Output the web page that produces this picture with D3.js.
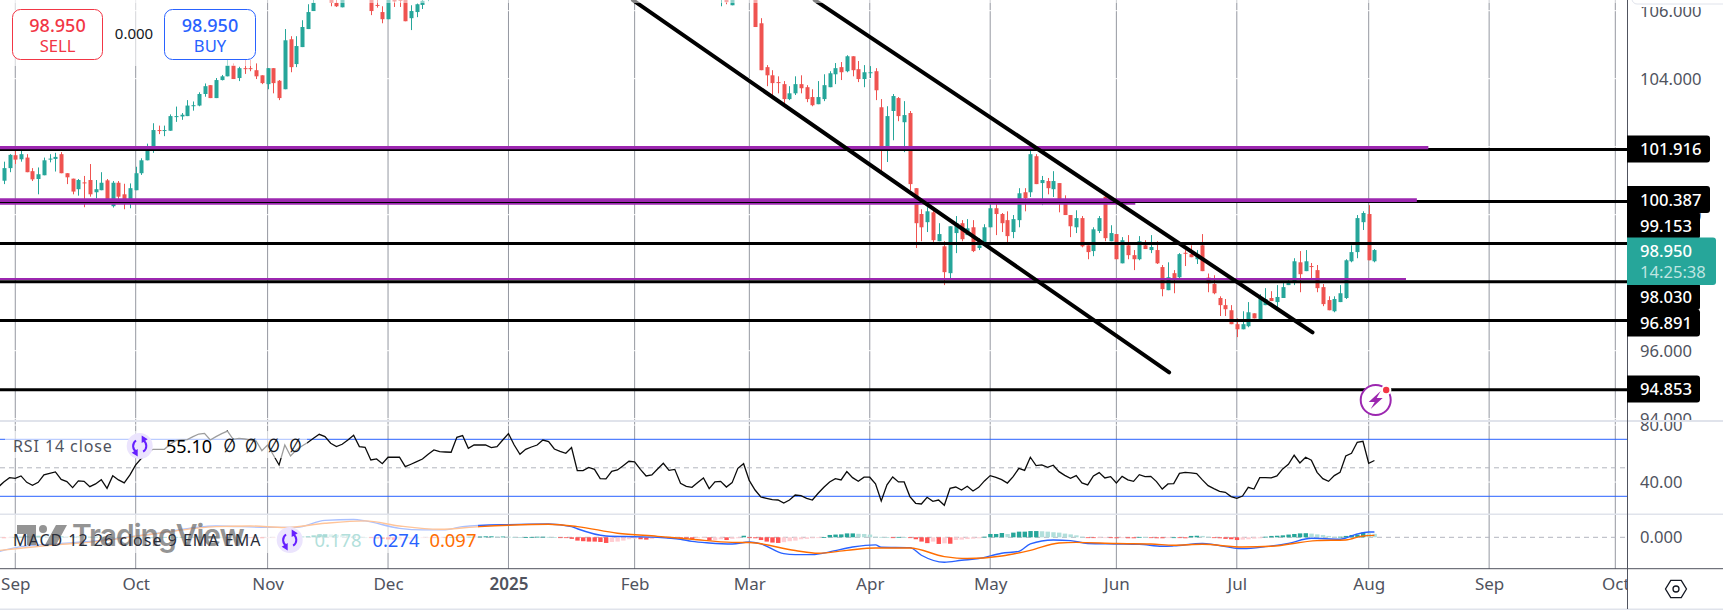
<!DOCTYPE html>
<html>
<head>
<meta charset="utf-8">
<style>
  html, body { margin: 0; padding: 0; background: #fff; }
  svg { display: block; }
  text { font-family: "Noto Sans", sans-serif; }
</style>
</head>
<body>
<div id="chart"></div>
<script src="https://cdn.jsdelivr.net/npm/d3@7"></script>
<script>
'use strict'

// bars that show inside the price pane, first and last bar of every run
const barRuns = [[0, 54], [57, 59], [64, 74], [125, 127], [131, 239]]

const opens = [
  101.00, 101.37, 101.75, 101.63, 101.68, 101.28, 101.05, 101.16, 101.62, 101.64,
  101.78, 101.22, 101.06, 100.75, 100.95, 101.02, 100.66, 100.72, 101.01, 100.25,
  100.94, 100.60, 100.43, 100.72, 101.22, 101.60, 102.00, 102.49, 102.46, 102.47,
  102.88, 102.89, 102.90, 103.20, 103.21, 103.55, 103.81, 103.43, 103.96, 104.07,
  104.39, 104.02, 104.31, 104.31, 104.25, 104.10, 103.84, 104.31, 103.94, 103.69,
  105.16, 104.43, 104.93, 105.46, 105.99,
  106.5, 106.23, 106.10,
  106.5, 106.17, 105.96, 105.75, 106.5, 106.5, 106.5, 105.78, 105.96, 106.17, 106.5,
  106.5, 106.5, 106.16,
  106.5, 105.63, 104.34, 104.10, 103.90, 103.84, 103.40, 103.57, 103.84,
  103.75, 103.46, 103.25, 103.40, 103.75, 104.13, 104.34, 104.22, 104.66, 104.28,
  103.99, 104.17, 104.22, 103.16, 102.02, 103.05, 103.43, 102.72, 102.99, 100.78,
  100.02, 99.78, 100.07, 99.22, 99.07, 98.28, 99.46, 99.75, 99.40, 99.63,
  99.02, 99.10, 99.63, 100.19, 100.02, 99.84, 99.49, 99.84, 100.66, 100.66,
  101.72, 100.93, 100.99, 100.75, 100.93, 100.43, 99.99, 99.63, 99.90, 99.10,
  98.93, 99.52, 100.53, 99.22, 99.43, 98.57, 99.10, 98.81, 98.69, 99.10,
  98.96, 98.96, 98.46, 97.78, 98.28, 98.16, 98.88, 98.84, 98.69, 99.10,
  98.15, 97.96, 97.55, 97.34, 97.19, 96.78, 96.63, 96.72, 97.10, 96.92,
  97.34, 97.55, 97.43, 97.55, 97.93, 97.99, 98.60, 98.34, 98.49, 98.37,
  97.87, 97.49, 97.16, 97.43, 97.55, 98.63, 98.90, 99.78, 100.02, 98.63
]
const highs = [
  101.56, 101.78, 101.90, 101.88, 101.78, 101.37, 101.39, 101.68, 101.78, 101.82,
  101.84, 101.22, 101.06, 101.05, 101.14, 101.49, 101.02, 101.25, 101.05, 100.99,
  100.99, 100.91, 100.92, 101.41, 101.66, 102.09, 102.69, 102.62, 102.62, 102.95,
  103.18, 102.99, 103.37, 103.33, 103.60, 103.86, 103.81, 104.02, 104.11, 104.55,
  104.45, 104.35, 104.55, 104.55, 104.45, 104.10, 104.31, 104.31, 103.96, 105.46,
  105.25, 105.25, 105.72, 106.19, 106.40,
  106.6, 106.4, 106.7,
  106.7, 106.4, 106.13, 106.7, 106.6, 106.6, 106.6, 106.16, 106.21, 106.4, 106.7,
  106.7, 106.6, 106.6,
  106.6, 105.78, 104.40, 104.25, 104.07, 103.93, 103.78, 104.07, 104.10,
  103.81, 103.69, 103.93, 104.13, 104.22, 104.46, 104.49, 104.69, 104.66, 104.52,
  104.40, 104.37, 104.31, 103.40, 103.19, 103.55, 103.46, 103.34, 103.05, 100.78,
  100.16, 100.22, 100.23, 99.75, 99.22, 99.66, 99.96, 99.84, 99.87, 99.84,
  99.31, 99.72, 100.31, 100.31, 100.05, 100.10, 99.99, 100.78, 100.78, 101.90,
  101.78, 101.14, 101.08, 101.28, 100.93, 100.57, 99.99, 100.13, 99.96, 99.10,
  99.63, 99.96, 100.57, 99.69, 99.43, 99.34, 99.40, 98.96, 99.37, 99.25,
  99.40, 99.22, 98.52, 98.60, 98.37, 98.87, 98.96, 99.10, 98.96, 99.43,
  98.27, 98.22, 97.60, 97.52, 97.34, 96.95, 97.16, 97.43, 97.10, 97.66,
  97.84, 97.75, 97.93, 97.99, 98.07, 98.72, 98.93, 98.96, 98.58, 98.52,
  97.96, 97.60, 97.60, 97.93, 98.69, 99.10, 99.99, 100.10, 100.28, 98.99
]
const lows = [
  100.90, 101.25, 101.49, 101.56, 101.25, 100.99, 100.60, 101.16, 101.54, 101.27,
  101.22, 100.90, 100.60, 100.56, 100.22, 100.53, 100.48, 100.72, 100.43, 100.21,
  100.43, 100.16, 100.19, 100.72, 101.17, 101.60, 101.82, 102.37, 102.31, 102.47,
  102.73, 102.79, 102.90, 103.06, 103.19, 103.47, 103.43, 103.43, 103.95, 104.07,
  103.99, 103.93, 104.14, 104.22, 103.99, 103.84, 103.69, 103.57, 103.37, 103.69,
  104.19, 104.34, 104.93, 105.46, 105.99,
  106.13, 106.11, 106.10,
  105.87, 106.09, 105.63, 105.75, 106.11, 106.11, 105.69, 105.43, 105.81, 106.05, 106.28,
  106.13, 106.19, 106.16,
  105.52, 104.25, 103.78, 103.49, 103.57, 103.25, 103.37, 103.52, 103.57,
  103.31, 103.19, 103.25, 103.34, 103.75, 103.84, 103.96, 104.19, 104.07, 103.90,
  103.75, 104.02, 103.37, 101.25, 101.55, 102.19, 102.75, 101.84, 100.72, 99.02,
  99.22, 99.49, 99.19, 99.22, 97.93, 98.13, 98.87, 99.22, 99.40, 98.90,
  98.96, 99.10, 99.63, 99.40, 99.49, 99.19, 99.31, 99.63, 100.10, 100.52,
  100.90, 100.28, 100.60, 100.52, 100.07, 99.99, 99.34, 99.46, 99.04, 98.69,
  98.78, 99.46, 99.22, 99.22, 98.69, 98.57, 98.69, 98.37, 98.66, 98.99,
  98.87, 98.55, 97.60, 97.78, 97.69, 98.13, 98.49, 98.75, 98.55, 98.34,
  97.72, 97.66, 97.02, 97.02, 96.78, 96.40, 96.63, 96.69, 96.95, 96.92,
  97.34, 97.46, 97.28, 97.55, 97.93, 97.93, 97.72, 98.34, 98.13, 97.72,
  97.31, 97.19, 97.13, 97.43, 97.52, 98.60, 98.72, 99.55, 98.66, 98.60
]
const closes = [
  101.37, 101.76, 101.62, 101.78, 101.25, 101.04, 101.19, 101.60, 101.65, 101.70,
  101.22, 101.10, 100.68, 101.02, 100.93, 100.60, 100.75, 100.94, 100.43, 100.94,
  100.53, 100.43, 100.78, 101.22, 101.60, 101.88, 102.49, 102.46, 102.49, 102.90,
  102.90, 102.94, 103.21, 103.22, 103.55, 103.78, 103.43, 103.96, 104.07, 104.39,
  103.99, 104.31, 104.29, 104.29, 104.07, 103.87, 104.31, 103.87, 103.43, 105.13,
  104.34, 104.96, 105.52, 105.96, 106.23,
  106.23, 106.13, 106.5,
  105.99, 106.15, 105.75, 106.5, 106.27, 106.29, 105.69, 105.99, 106.19, 106.29, 106.6,
  106.6, 106.25, 106.5,
  105.52, 104.25, 104.10, 103.87, 103.88, 103.40, 103.57, 103.84, 103.72,
  103.40, 103.22, 103.46, 103.81, 104.16, 104.31, 104.19, 104.66, 104.25, 103.99,
  104.19, 104.19, 103.66, 102.02, 102.90, 103.49, 102.90, 102.93, 100.90, 99.75,
  99.63, 100.10, 99.25, 99.43, 98.31, 99.66, 99.75, 99.28, 99.60, 98.93,
  99.10, 99.63, 100.19, 100.02, 99.75, 99.37, 99.87, 100.63, 100.49, 101.78,
  100.90, 101.02, 100.78, 100.99, 100.46, 99.99, 99.66, 99.90, 99.07, 98.90,
  99.57, 99.90, 99.31, 99.46, 98.69, 99.25, 98.81, 98.69, 99.22, 98.99,
  99.05, 98.57, 97.81, 98.16, 98.10, 98.84, 98.86, 98.75, 98.84, 98.34,
  97.98, 97.69, 97.34, 97.22, 96.78, 96.63, 96.78, 97.13, 96.95, 97.55,
  97.52, 97.46, 97.58, 97.87, 97.99, 98.63, 98.25, 98.63, 98.46, 97.84,
  97.37, 97.19, 97.52, 97.69, 98.66, 98.90, 99.90, 100.05, 98.66, 98.96
]

// RSI, one value per bar, the first one is bar -1
const rsiValues = [
  36.3,
  40.1, 43.1, 42.6, 44.3, 39.8, 37.7, 39.8, 45.0, 46.1, 47.1,
  41.9, 40.3, 36.1, 40.8, 40.5, 36.8, 38.7, 41.7, 35.6, 44.5,
  41.5, 39.4, 45.0, 52.0, 56.7, 60.2, 63.0, 63.0, 63.0, 66.5,
  69.1, 69.5, 69.8, 71.9, 73.7, 74.2, 69.5, 71.9, 74.0, 75.8,
  70.0, 70.7, 70.2, 69.5, 68.8, 62.0, 66.0, 59.0, 52.0, 66.0,
  58.3, 62.5, 65.3, 67.7, 70.7, 73.5, 71.9, 67.2, 64.9, 66.5,
  69.5, 72.8, 64.9, 64.4, 55.5, 56.2, 52.9, 57.4, 57.4, 57.4,
  50.8, 52.5, 54.3, 56.2, 59.5, 62.5, 61.3, 61.1, 60.9, 71.4,
  72.6, 63.7, 66.0, 66.0, 66.0, 64.2, 64.9, 69.5, 74.0, 66.0,
  59.5, 63.0, 64.6, 66.0, 69.5, 68.4, 63.2, 61.6, 60.2, 64.2,
  48.0, 48.0, 50.3, 48.9, 42.4, 42.2, 47.5, 48.5, 51.5, 54.6,
  54.1, 48.9, 44.3, 45.0, 49.2, 53.2, 48.2, 48.9, 39.1, 37.0,
  36.3, 39.6, 42.9, 35.4, 40.1, 40.5, 36.5, 39.6, 49.6, 52.9,
  41.0, 34.4, 29.5, 28.6, 27.7, 27.4, 25.3, 27.4, 30.9, 30.5,
  28.6, 27.4, 32.1, 36.3, 40.1, 42.4, 41.5, 47.3, 43.1, 40.5,
  43.4, 43.4, 38.7, 26.7, 38.0, 43.6, 40.1, 40.1, 29.8, 25.1,
  24.6, 29.3, 26.5, 27.4, 23.7, 35.6, 36.5, 34.4, 37.0, 33.7,
  36.3, 40.8, 44.5, 43.3, 41.7, 39.3, 43.8, 49.6, 48.2, 57.4,
  51.5, 52.0, 50.3, 51.8, 47.3, 44.7, 42.6, 44.5, 39.4, 38.0,
  44.3, 46.6, 42.9, 43.8, 39.4, 44.0, 41.5, 40.5, 45.2, 43.8,
  44.0, 40.3, 35.1, 38.7, 38.9, 46.1, 46.8, 46.4, 45.9, 41.5,
  37.5, 35.4, 33.5, 32.8, 29.8, 28.6, 30.2, 36.3, 35.1, 43.1,
  43.1, 42.9, 44.3, 49.2, 52.5, 58.8, 53.4, 57.4, 55.3, 46.8,
  42.4, 40.5, 44.5, 46.8, 58.3, 60.2, 67.9, 68.6, 53.2, 55.1
]

// MACD histogram, one value per bar from bar 0
const histValues = [
  -0.05, -0.03, 0, 0.03, 0.06, 0.08, 0.08, 0.07, 0.06, 0.05,
  0.05, 0.04, 0.04, 0.04, 0.03, 0.03, 0.03, 0.03, 0.02, 0.02,
  0.02, 0.01, 0.01, 0.01, 0, 0, 0, 0.01, 0.01, 0.02,
  0.02, 0.02, 0.03, 0.03, 0.03, 0.03, 0.03, 0.03, 0.02, 0.02,
  0.01, 0.01, 0, -0.02, -0.03, -0.05, -0.04, -0.03, -0.02, -0.01,
  0, 0.02, 0.04, 0.06, 0.10, 0.14, 0.16, 0.15, 0.13, 0.11,
  0.09, 0.06, 0.03, 0, -0.03, -0.06, -0.09, -0.11, -0.13, -0.12,
  -0.10, -0.08, -0.06, -0.04, -0.03, -0.03, -0.02, -0.02, 0.01, 0.02,
  0.03, 0.03, 0.04, 0.04, 0.05, 0.05, 0.04, 0.04, 0.03, 0.02,
  0.01, 0.01, 0.02, 0.03, 0.03, 0.02, 0.01, -0.02, -0.04, -0.08,
  -0.17, -0.20, -0.22, -0.22, -0.24, -0.29, -0.24, -0.22, -0.17, -0.10,
  -0.07, -0.10, -0.12, -0.09, -0.03, -0.02, -0.05, -0.03, -0.03, -0.05,
  -0.09, -0.05, -0.03, -0.16, -0.14, -0.10, -0.14, -0.08, -0.05, 0.08,
  -0.02, -0.05, -0.14, -0.22, -0.27, -0.29, -0.25, -0.20, -0.17, -0.10,
  -0.08, -0.05, -0.03, 0.01, 0.12, 0.14, 0.15, 0.20, 0.20, 0.18,
  0.17, 0.14, 0.03, 0.02, 0.01, -0.01, 0.02, 0.01, -0.02, -0.10,
  -0.22, -0.30, -0.22, -0.34, -0.31, -0.33, -0.14, -0.12, -0.09, -0.07,
  -0.05, 0.03, 0.17, 0.17, 0.22, 0.17, 0.24, 0.29, 0.29, 0.32,
  0.32, 0.31, 0.29, 0.26, 0.24, 0.19, 0.15, 0.10, 0.03, -0.01,
  -0.03, -0.02, -0.01, -0.01, -0.05, -0.03, -0.05, -0.05, 0.02, 0.01,
  -0.02, -0.05, -0.05, -0.02, 0, -0.03, -0.05, 0.07, 0.08, 0.07,
  0.03, -0.03, -0.05, -0.08, -0.10, -0.14, -0.12, -0.10, -0.07, -0.05,
  0.03, 0.07, 0.08, 0.10, 0.14, 0.17, 0.20, 0.21, 0.19, 0.15,
  0.12, 0.07, 0.03, 0.03, 0.07, 0.12, 0.14, 0.24, 0.20, 0.178
]

// MACD and signal lines, read at their turning points
const macdBars = [
  -1, 3, 9, 16, 26, 37, 46, 51, 56, 61, 63, 69, 73, 77, 80, 88, 95, 99, 100,
  105, 110, 114, 118, 120, 123, 127, 130, 132, 136, 138, 141, 144, 148, 152, 153,
  158, 160, 164, 167, 170, 174, 177, 179, 183, 186, 189, 194, 198, 202, 204, 209,
  216, 220, 224, 228, 233, 236, 238, 239
]
const macdValues = [
  -0.74, -0.48, -0.34, -0.19, 0.17, 0.58, 0.51, 0.51, 0.87, 0.91, 0.84, 0.46, 0.38, 0.38, 0.55, 0.65, 0.68, 0.55, 0.44,
  0.07, 0.03, 0, -0.10, -0.21, -0.29, -0.34, -0.24, -0.34, -0.84, -0.89, -0.89, -0.75, -0.50, -0.39, -0.51,
  -0.53, -0.92, -1.28, -1.18, -1.09, -0.82, -0.72, -0.34, -0.14, -0.17, -0.32, -0.34, -0.36, -0.46, -0.44, -0.32,
  -0.58, -0.48, -0.31, -0.05, -0.10, 0.17, 0.27, 0.274
]
const signalBars = [
  -1, 3, 9, 16, 26, 37, 43, 49, 56, 63, 69, 76, 83, 88, 95, 100,
  107, 114, 120, 127, 130, 138, 142, 147, 152, 158, 164, 168, 174, 179, 184, 187, 194, 200, 204,
  209, 216, 221, 229, 234, 237, 239
]
const signalValues = [
  -0.68, -0.56, -0.39, -0.22, 0.17, 0.55, 0.58, 0.50, 0.72, 0.84, 0.58, 0.41, 0.55, 0.62, 0.67, 0.55,
  0.21, 0.05, -0.10, -0.26, -0.27, -0.68, -0.82, -0.67, -0.55, -0.55, -0.99, -1.09, -0.96, -0.67, -0.29, -0.26, -0.32, -0.34, -0.41,
  -0.36, -0.50, -0.46, -0.17, -0.14, 0.07, 0.097
]

const monthBars = [2, 23, 46, 67, 88, 110, 130, 151, 172, 194, 215, 238, 259, 281]
const monthLabels = ['Sep', 'Oct', 'Nov', 'Dec', '2025', 'Feb', 'Mar', 'Apr', 'May', 'Jun', 'Jul', 'Aug', 'Sep', 'Oct']

const priceTicks = [106, 104, 102, 100, 98, 96, 94]
const rsiTicks = [80, 40]
const macdTicks = [0]

const levelPrices = [101.916, 100.387, 99.153, 98.030, 96.891, 94.853]
const levelText = ['101.916', '100.387', '99.153', '98.030', '96.891', '94.853']
const zonePrices = [100.34, 101.97, 100.43, 98.11]
const zoneLastBars = [197.3, 248.4, 246.4, 244.5]
const trendBars = [[109.7, 203.2], [141.4, 228.2]]
const trendPrices = [[106.31, 95.36], [106.31, 96.54]]

const lastPrice = '98.950'
const countdown = '14:25:38'

const width = 1723
const height = 610
const axisX = 1627
const mainBottom = 420
const upColor = '#26a69a'
const downColor = '#ef5350'
const blue = '#2962ff'
const orange = '#ff6d00'
const purple = '#9c27b0'
const paneLine = '#e0e3eb'
const tickColor = '#50535e'

const x = d3.scaleLinear().domain([0, 281]).range([3.8, 1615.3])
const yPrice = d3.scaleLinear().domain([104, 96]).range([78.7, 350.7])
const yRsi = d3.scaleLinear().domain([70, 30]).range([439.3, 496.3])
const yMacd = d3.scaleLinear().domain([0, 1]).range([537.3, 517.8])

const svg = d3.select('#chart')
  .append('svg')
  .attr('width', width)
  .attr('height', height)
  .attr('viewBox', `0 0 ${width} ${height}`)

const defs = svg.append('defs')
function addClip (id, left, top, w, h) {
  defs.append('clipPath').attr('id', id)
    .append('rect')
    .attr('x', left).attr('y', top).attr('width', w).attr('height', h)
}
addClip('main-clip', 0, 0, axisX, mainBottom)
addClip('price-axis-clip', axisX, 7, width - axisX, mainBottom - 7)
addClip('rsi-axis-clip', axisX, 422, width - axisX, 92)
addClip('time-clip', 0, 570, axisX, 40)

function drawGrid () {
  const grid = svg.append('g').attr('class', 'grid')
  grid.selectAll('line')
    .data(monthBars)
    .enter()
    .append('line')
    .attr('x1', d => x(d))
    .attr('x2', d => x(d))
    .attr('y1', 0)
    .attr('y2', 569)
    .attr('stroke', '#9598a1')
    .attr('stroke-width', 1)

  // horizontal grid is white here, it only nicks the vertical lines
  const nicks = priceTicks.map(d => yPrice(d)).concat(rsiTicks.map(d => yRsi(d)))
  grid.selectAll('line.nick')
    .data(nicks)
    .enter()
    .append('line')
    .attr('class', 'nick')
    .attr('x1', 0)
    .attr('x2', axisX)
    .attr('y1', d => d)
    .attr('y2', d => d)
    .attr('stroke', '#fff')
}

function drawCandles () {
  const bars = barRuns.flatMap(r => d3.range(r[0], r[1] + 1))
  const candles = bars.map((bar, i) => ({
    bar,
    open: opens[i],
    high: highs[i],
    low: lows[i],
    close: closes[i]
  }))
  const color = d => d.close >= d.open ? upColor : downColor
  const g = svg.append('g').attr('clip-path', 'url(#main-clip)')
  g.selectAll('line.wick')
    .data(candles)
    .enter()
    .append('line')
    .attr('class', 'wick')
    .attr('x1', d => Math.round(x(d.bar)) + 0.5)
    .attr('x2', d => Math.round(x(d.bar)) + 0.5)
    .attr('y1', d => yPrice(d.high))
    .attr('y2', d => yPrice(d.low))
    .attr('stroke', color)
  g.selectAll('rect.body')
    .data(candles)
    .enter()
    .append('rect')
    .attr('class', 'body')
    .attr('x', d => Math.round(x(d.bar)) - 1.5)
    .attr('width', 4)
    .attr('y', d => yPrice(Math.max(d.open, d.close)))
    .attr('height', d => Math.max(1, Math.abs(yPrice(d.open) - yPrice(d.close))))
    .attr('fill', color)
}

function drawLevels () {
  const g = svg.append('g').attr('clip-path', 'url(#main-clip)')
  const zone = (i, w) => {
    g.append('line')
      .attr('x1', 0)
      .attr('x2', x(zoneLastBars[i]))
      .attr('y1', yPrice(zonePrices[i]))
      .attr('y2', yPrice(zonePrices[i]))
      .attr('stroke', purple)
      .attr('stroke-width', w)
  }
  zone(0, 3)
  g.selectAll('line.level')
    .data(levelPrices)
    .enter()
    .append('line')
    .attr('class', 'level')
    .attr('x1', 0)
    .attr('x2', axisX)
    .attr('y1', d => yPrice(d))
    .attr('y2', d => yPrice(d))
    .attr('stroke', '#000')
    .attr('stroke-width', 3)
  zone(1, 3.2)
  zone(2, 3.6)
  zone(3, 2)
  g.selectAll('line.trend')
    .data(trendBars)
    .enter()
    .append('line')
    .attr('class', 'trend')
    .attr('x1', d => x(d[0]))
    .attr('x2', d => x(d[1]))
    .attr('y1', (d, i) => yPrice(trendPrices[i][0]))
    .attr('y2', (d, i) => yPrice(trendPrices[i][1]))
    .attr('stroke', '#000')
    .attr('stroke-width', 4)
    .attr('stroke-linecap', 'round')
}

function drawRsi () {
  const g = svg.append('g')
  g.selectAll('line.band')
    .data([70, 30])
    .enter()
    .append('line')
    .attr('class', 'band')
    .attr('x1', 0)
    .attr('x2', axisX)
    .attr('y1', d => yRsi(d))
    .attr('y2', d => yRsi(d))
    .attr('stroke', blue)
  g.append('line')
    .attr('x1', 0)
    .attr('x2', axisX)
    .attr('y1', yRsi(50))
    .attr('y2', yRsi(50))
    .attr('stroke', '#b2b5be')
    .attr('stroke-dasharray', '5 4')
  const line = d3.line()
    .x((d, i) => x(i - 1))
    .y(d => yRsi(d))
  g.append('path')
    .attr('d', line(rsiValues))
    .attr('fill', 'none')
    .attr('stroke', '#0b0b0b')
    .attr('stroke-width', 1.3)
}

function histColor (d, i) {
  const prev = i > 0 ? histValues[i - 1] : 0
  if (d >= 0) {
    return d >= prev ? upColor : '#b2dfdb'
  }
  return d <= prev ? '#ff5252' : '#ffcdd2'
}

function drawMacd () {
  const g = svg.append('g')
  g.append('line')
    .attr('x1', 0)
    .attr('x2', axisX)
    .attr('y1', yMacd(0))
    .attr('y2', yMacd(0))
    .attr('stroke', '#b2b5be')
    .attr('stroke-dasharray', '5 4')
  g.selectAll('rect.hist')
    .data(histValues)
    .enter()
    .append('rect')
    .attr('class', 'hist')
    .attr('x', (d, i) => x(i) - 2)
    .attr('width', 4.4)
    .attr('y', d => Math.min(yMacd(d), yMacd(0)))
    .attr('height', d => Math.max(0.8, Math.abs(yMacd(d) - yMacd(0))))
    .attr('fill', histColor)
  const line = d3.line()
    .x(d => x(d[0]))
    .y(d => yMacd(d[1]))
    .curve(d3.curveMonotoneX)
  g.append('path')
    .attr('d', line(d3.zip(macdBars, macdValues)))
    .attr('fill', 'none')
    .attr('stroke', blue)
    .attr('stroke-width', 1.4)
  g.append('path')
    .attr('d', line(d3.zip(signalBars, signalValues)))
    .attr('fill', 'none')
    .attr('stroke', orange)
    .attr('stroke-width', 1.4)
}

function drawWatermark () {
  const g = svg.append('g').attr('fill', '#6b6b6b').attr('opacity', 0.72)
  g.append('path')
    .attr('d', 'M17 525h19v20h-9v-11h-10z M56 525h11l-11 20h-11z')
  g.append('circle').attr('cx', 43).attr('cy', 529).attr('r', 4)
  g.append('text')
    .attr('x', 72)
    .attr('y', 546)
    .attr('font-size', 30)
    .attr('font-weight', 600)
    .style('font-family', 'Inter, sans-serif')
    .attr('letter-spacing', -1)
    .text('TradingView')
}

function drawRefreshIcon (cx, cy) {
  const g = svg.append('g').attr('transform', `translate(${cx},${cy})`)
  g.append('circle').attr('r', 13).attr('fill', '#ebe4fd')
  const arc = d3.arc().innerRadius(5.6).outerRadius(7.6)
  g.append('path')
    .attr('d', arc({ startAngle: 0.5, endAngle: 2.6 }))
    .attr('fill', '#651fff')
  g.append('path')
    .attr('d', arc({ startAngle: 3.6, endAngle: 5.7 }))
    .attr('fill', '#651fff')
  g.append('path').attr('d', 'M2 -10.5l6 3.8l-6 3.8z').attr('fill', '#651fff')
  g.append('path').attr('d', 'M-2 10.5l-6 -3.8l6 -3.8z').attr('fill', '#651fff')
}

function drawLegends () {
  // legend rows sit on a half transparent backing
  svg.append('rect')
    .attr('x', 5).attr('y', 431).attr('width', 302).attr('height', 27)
    .attr('fill', '#fff').attr('opacity', 0.6)
  svg.append('rect')
    .attr('x', 0).attr('y', 515).attr('width', 478).attr('height', 38)
    .attr('fill', '#fff').attr('opacity', 0.6)
  drawWatermark()

  svg.append('text')
    .attr('x', 13).attr('y', 451.5)
    .attr('font-size', 16).attr('fill', '#50535e')
    .attr('letter-spacing', 0.9)
    .text('RSI 14 close')
  drawRefreshIcon(139.7, 446)
  svg.append('text')
    .attr('x', 166).attr('y', 452.5)
    .attr('font-size', 18).attr('fill', '#000')
    .text('55.10')
  svg.selectAll('text.empty')
    .data([229.6, 251, 273.5, 295.4])
    .enter()
    .append('text')
    .attr('class', 'empty')
    .attr('transform', d => `translate(${d},452) scale(0.85,1.2)`)
    .attr('text-anchor', 'middle')
    .attr('font-size', 16).attr('font-weight', 600).attr('fill', '#131722')
    .style('font-family', '"DejaVu Sans", sans-serif')
    .text('∅')

  svg.append('text')
    .attr('x', 13).attr('y', 546)
    .attr('font-size', 16).attr('fill', '#2a2e39')
    .attr('letter-spacing', 1)
    .text('MACD 12 26 close 9 EMA EMA')
  drawRefreshIcon(289.7, 540)
  const values = [['0.178', 314.5, '#b2dfdb'], ['0.274', 372.4, blue], ['0.097', 429.4, orange]]
  svg.selectAll('text.macd-value')
    .data(values)
    .enter()
    .append('text')
    .attr('class', 'macd-value')
    .attr('x', d => d[1]).attr('y', 546.5)
    .attr('font-size', 18.4).attr('fill', d => d[2])
    .text(d => d[0])
}

function drawTradeButtons () {
  // the top left corner is veiled behind the buttons
  svg.append('rect')
    .attr('x', 0).attr('y', 0).attr('width', 255).attr('height', 66)
    .attr('fill', '#fff').attr('opacity', 0.6)
  svg.append('rect')
    .attr('x', 0).attr('y', 0).attr('width', axisX).attr('height', 3)
    .attr('fill', '#fff').attr('opacity', 0.5)
  const buttons = [
    { x: 12.5, w: 90, color: '#f23645', label: 'SELL' },
    { x: 164.5, w: 91, color: blue, label: 'BUY' }
  ]
  const g = svg.selectAll('g.button')
    .data(buttons)
    .enter()
    .append('g')
    .attr('class', 'button')
  g.append('rect')
    .attr('x', d => d.x).attr('y', 9.5)
    .attr('width', d => d.w).attr('height', 50)
    .attr('rx', 8)
    .attr('fill', '#fff')
    .attr('stroke', d => d.color)
  g.append('text')
    .attr('x', d => d.x + d.w / 2).attr('y', 32)
    .attr('text-anchor', 'middle')
    .attr('font-size', 18).attr('font-weight', 500)
    .attr('fill', d => d.color)
    .text(lastPrice)
  g.append('text')
    .attr('x', d => d.x + d.w / 2).attr('y', 52)
    .attr('text-anchor', 'middle')
    .attr('font-size', 16.6).attr('fill', d => d.color)
    .text(d => d.label)
  svg.append('text')
    .attr('x', 134).attr('y', 38.5)
    .attr('text-anchor', 'middle')
    .attr('font-size', 15).attr('fill', '#131722')
    .text('0.000')
}

function drawBadge () {
  const cx = 1375.7
  const cy = 400
  const g = svg.append('g')
  g.append('circle')
    .attr('cx', cx).attr('cy', cy).attr('r', 15)
    .attr('fill', '#fff').attr('stroke', purple).attr('stroke-width', 2)
  g.append('path')
    .attr('transform', `translate(${cx},${cy})`)
    .attr('d', 'M5 -9L-7 2H-1L-5 9L7 -2H1z')
    .attr('fill', purple)
  g.append('circle')
    .attr('cx', cx + 10.5).attr('cy', cy - 10)
    .attr('r', 4.2)
    .attr('fill', '#f23645').attr('stroke', '#fff').attr('stroke-width', 2)
}

function styleAxisText (g) {
  g.select('.domain').remove()
  g.selectAll('.tick line').remove()
  g.selectAll('text')
    .attr('fill', tickColor)
    .attr('font-size', 16.6)
    .style('font-family', '"Noto Sans", sans-serif')
}

function drawAxes () {
  const priceAxis = d3.axisRight(yPrice)
    .tickValues(priceTicks)
    .tickFormat(d3.format('.3f'))
    .tickSize(0)
    .tickPadding(0)
  svg.append('g')
    .attr('clip-path', 'url(#price-axis-clip)')
    .append('g')
    .attr('transform', `translate(${axisX + 13},0)`)
    .call(priceAxis)
    .call(styleAxisText)

  const rsiAxis = d3.axisRight(yRsi)
    .tickValues(rsiTicks)
    .tickFormat(d3.format('.2f'))
    .tickSize(0)
    .tickPadding(0)
  svg.append('g')
    .attr('clip-path', 'url(#rsi-axis-clip)')
    .append('g')
    .attr('transform', `translate(${axisX + 13},0)`)
    .call(rsiAxis)
    .call(styleAxisText)

  const macdAxis = d3.axisRight(yMacd)
    .tickValues(macdTicks)
    .tickFormat(d3.format('.3f'))
    .tickSize(0)
    .tickPadding(0)
  svg.append('g')
    .attr('transform', `translate(${axisX + 13},0)`)
    .call(macdAxis)
    .call(styleAxisText)

  const timeAxis = d3.axisBottom(x)
    .tickValues(monthBars)
    .tickFormat((d, i) => monthLabels[i])
    .tickSize(0)
    .tickPadding(0)
  svg.append('g')
    .attr('clip-path', 'url(#time-clip)')
    .append('g')
    .attr('transform', 'translate(0,578)')
    .call(timeAxis)
    .call(styleAxisText)
    .selectAll('text')
    .attr('dy', '0.71em')
    .attr('font-size', 17)
    .attr('font-weight', d => d === 88 ? 600 : 400)
}

function drawFrame () {
  const rows = [[421, 2], [514.3, 1.5], [609.3, 1.5]]
  svg.selectAll('line.pane')
    .data(rows)
    .enter()
    .append('line')
    .attr('class', 'pane')
    .attr('x1', 0)
    .attr('x2', width)
    .attr('y1', d => d[0])
    .attr('y2', d => d[0])
    .attr('stroke', paneLine)
    .attr('stroke-width', d => d[1])
  svg.append('line')
    .attr('x1', 0).attr('x2', width)
    .attr('y1', 568.7).attr('y2', 568.7)
    .attr('stroke', '#50535e')
  svg.append('line')
    .attr('x1', axisX + 0.5).attr('x2', axisX + 0.5)
    .attr('y1', 0).attr('y2', 609)
    .attr('stroke', '#50535e')
  svg.append('rect')
    .attr('x', axisX + 5).attr('y', -12).attr('width', 100).attr('height', 16)
    .attr('rx', 5)
    .attr('fill', '#fff').attr('stroke', paneLine)

  // settings button under the price scale
  const hex = d3.range(6).map(i => {
    const a = i * Math.PI / 3
    return [1676 + 10.5 * Math.cos(a), 589 + 10 * Math.sin(a)]
  })
  svg.append('polygon')
    .attr('points', hex.join(' '))
    .attr('fill', 'none').attr('stroke', '#131722').attr('stroke-width', 1.3)
  svg.append('circle')
    .attr('cx', 1676).attr('cy', 589).attr('r', 3)
    .attr('fill', 'none').attr('stroke', '#131722').attr('stroke-width', 1.3)
}

function drawTags () {
  const tagCenters = [149, 199.5, 225.5, 296.5, 323, 389]
  const tagWidths = [83, 83, 73, 73, 73, 73]
  const g = svg.selectAll('g.tag')
    .data(levelText)
    .enter()
    .append('g')
    .attr('class', 'tag')
  g.append('path')
    .attr('d', (d, i) => {
      const top = tagCenters[i] - 13.4
      const w = tagWidths[i]
      return `M${axisX} ${top}h${w - 3}q3 0 3 3v20.8q0 3 -3 3h${3 - w}z`
    })
    .attr('fill', '#000')
  g.append('text')
    .attr('x', axisX + 13)
    .attr('y', (d, i) => tagCenters[i] + 6)
    .attr('font-size', 16.6)
    .attr('font-weight', 500)
    .attr('fill', '#fff')
    .text(d => d)

  svg.append('path')
    .attr('d', `M${axisX} 237.5h86q3 0 3 3v41.5q0 3 -3 3h-86z`)
    .attr('fill', upColor)
  svg.append('text')
    .attr('x', axisX + 13).attr('y', 257)
    .attr('font-size', 16.6).attr('font-weight', 500).attr('fill', '#fff')
    .text(lastPrice)
  svg.append('text')
    .attr('x', axisX + 13).attr('y', 277.5)
    .attr('font-size', 16.6).attr('fill', '#bfe5e1')
    .text(countdown)
}

// Entry point
svg.append('rect').attr('width', width).attr('height', height).attr('fill', '#fff')
drawGrid()
drawCandles()
drawLevels()
drawRsi()
drawMacd()
drawFrame()
drawLegends()
drawTradeButtons()
drawBadge()
drawAxes()
drawTags()
</script>
</body>
</html>
